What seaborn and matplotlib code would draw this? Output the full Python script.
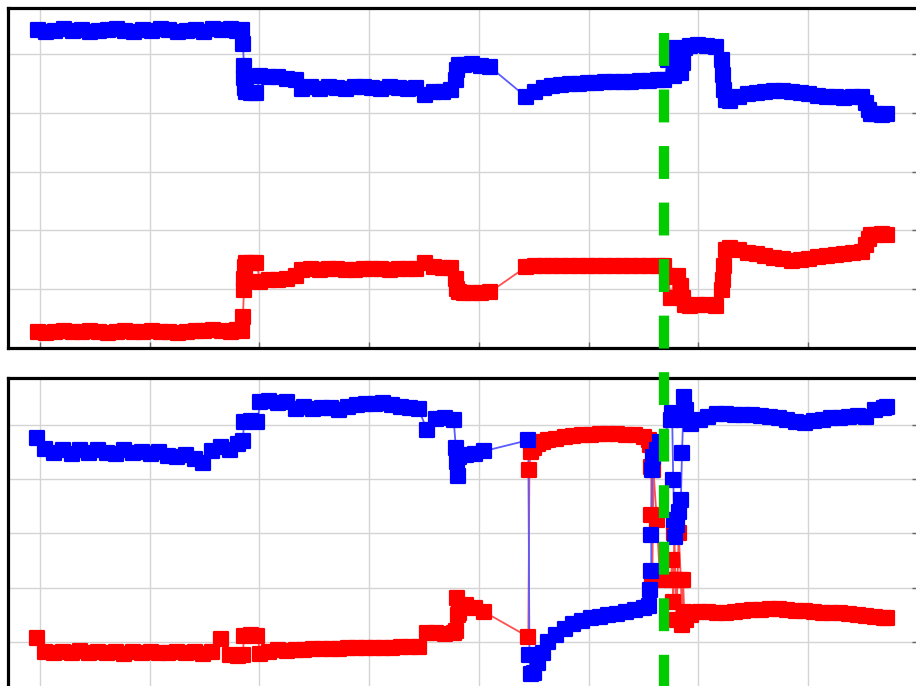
import seaborn as sns
import matplotlib.pyplot as plt

# time axis (hours) and the two signals of each panel
t_top = [-0.02, 0.06, 0.14, 0.22, 0.30, 0.38, 0.46, 0.54, 0.62, 0.70, 0.78, 0.86, 0.94,
         1.02, 1.10, 1.18, 1.26, 1.34, 1.42, 1.50, 1.58, 1.66, 1.74, 1.80, 1.84,
         1.85, 1.86, 1.86, 1.87, 1.88, 1.92, 1.97,
         2.01, 2.09, 2.17, 2.25, 2.33,
         2.39, 2.47, 2.55, 2.63, 2.71, 2.79, 2.87, 2.95, 3.03, 3.11, 3.19, 3.27, 3.35, 3.43,
         3.51, 3.59, 3.67, 3.75,
         3.79, 3.80, 3.82,
         3.86, 3.94, 4.02, 4.10,
         4.43, 4.51, 4.59, 4.67, 4.75, 4.83, 4.91, 4.99, 5.07, 5.15, 5.23, 5.31, 5.39, 5.47, 5.55, 5.63,
         5.69, 5.72, 5.75, 5.78, 5.81, 5.84, 5.86, 5.88,
         5.92, 6.00, 6.08, 6.16,
         6.21, 6.22, 6.23, 6.25,
         6.29, 6.37, 6.45, 6.53, 6.61, 6.69, 6.77, 6.85, 6.93, 7.01, 7.09, 7.17, 7.25, 7.33, 7.41, 7.49,
         7.53, 7.55, 7.57,
         7.61, 7.67, 7.72]

blue_top = [5.40, 5.37, 5.39, 5.42, 5.39, 5.41, 5.37, 5.39, 5.41, 5.42, 5.39, 5.37, 5.40,
            5.39, 5.42, 5.40, 5.37, 5.39, 5.41, 5.38, 5.42, 5.40, 5.43, 5.39, 5.41,
            5.17, 4.80, 4.59, 4.42, 4.36, 4.34, 4.34,
            4.62, 4.60, 4.61, 4.58, 4.55,
            4.41, 4.43, 4.41, 4.43, 4.42, 4.40, 4.43, 4.44, 4.42, 4.41, 4.44, 4.42, 4.40, 4.42,
            4.30, 4.36, 4.35, 4.38,
            4.56, 4.73, 4.81,
            4.81, 4.82, 4.80, 4.78,
            4.27, 4.36, 4.42, 4.45, 4.47, 4.48, 4.49, 4.50, 4.51, 4.52, 4.52, 4.53, 4.53, 4.54, 4.54, 4.55,
            4.56, 4.90, 5.10, 4.62, 4.70, 4.68, 4.85, 5.10,
            5.13, 5.15, 5.14, 5.12,
            4.90, 4.64, 4.39, 4.22,
            4.20, 4.27, 4.31, 4.34, 4.36, 4.37, 4.37, 4.36, 4.34, 4.32, 4.29, 4.27, 4.26, 4.25, 4.26, 4.27,
            4.17, 4.05, 3.97,
            3.97, 3.96, 3.97]

red_top = [0.28, 0.26, 0.28, 0.29, 0.27, 0.28, 0.29, 0.27, 0.26, 0.28, 0.29, 0.27, 0.28,
           0.29, 0.27, 0.28, 0.26, 0.28, 0.29, 0.29, 0.31, 0.29, 0.28, 0.31, 0.29,
           0.53, 0.98, 1.17, 1.37, 1.44, 1.44, 1.44,
           1.13, 1.15, 1.16, 1.18, 1.22,
           1.33, 1.35, 1.32, 1.34, 1.35, 1.33, 1.32, 1.34, 1.35, 1.34, 1.32, 1.34, 1.35, 1.35,
           1.44, 1.37, 1.36, 1.36,
           1.17, 1.00, 0.95,
           0.93, 0.93, 0.94, 0.95,
           1.38, 1.39, 1.40, 1.39, 1.40, 1.39, 1.39, 1.40, 1.40, 1.39, 1.40, 1.39, 1.40, 1.40, 1.39, 1.40,
           1.39, 1.22, 0.85, 1.20, 1.22, 1.05, 0.85, 0.73,
           0.72, 0.73, 0.73, 0.72,
           0.98, 1.15, 1.39, 1.66,
           1.70, 1.66, 1.62, 1.59, 1.56, 1.53, 1.51, 1.48, 1.49, 1.52, 1.55, 1.57, 1.58, 1.59, 1.61, 1.63,
           1.75, 1.85, 1.92,
           1.92, 1.93, 1.92]

t_bot = [-0.03, 0.05, 0.13, 0.21, 0.29, 0.37, 0.45, 0.53, 0.61, 0.69, 0.77, 0.85,
         0.93, 1.01, 1.09, 1.17, 1.25, 1.33, 1.41, 1.49, 1.57, 1.65, 1.73, 1.81,
         1.85, 1.86, 1.92, 1.98,
         2.01, 2.09, 2.17, 2.25, 2.33, 2.41, 2.49, 2.57, 2.65, 2.73, 2.81, 2.89,
         2.97, 3.05, 3.13, 3.21, 3.29, 3.37, 3.45, 3.53, 3.61, 3.69, 3.77,
         3.79, 3.80, 3.81, 3.82, 3.88, 3.96, 4.05,
         4.45, 4.46, 4.47, 4.50, 4.54, 4.58, 4.63, 4.70, 4.78, 4.86, 4.94, 5.02,
         5.10, 5.18, 5.26, 5.34, 5.42, 5.50, 5.55,
         5.56, 5.57, 5.57, 5.58, 5.59, 5.62, 5.65, 5.75, 5.76, 5.77, 5.78, 5.79,
         5.80, 5.82, 5.84, 5.85, 5.86, 5.87, 5.89,
         5.93, 6.01, 6.09, 6.17, 6.25, 6.33, 6.41, 6.49, 6.57, 6.65, 6.73, 6.81,
         6.89, 6.97, 7.05, 7.13, 7.21, 7.29, 7.37, 7.45, 7.53, 7.61, 7.69, 7.72]

blue_bot = [4.76, 4.55, 4.48, 4.54, 4.47, 4.53, 4.48, 4.54, 4.49, 4.46, 4.53, 4.48,
            4.51, 4.46, 4.50, 4.43, 4.40, 4.45, 4.38, 4.30, 4.52, 4.60, 4.53, 4.64,
            4.70, 5.06, 5.07, 5.06,
            5.42, 5.44, 5.40, 5.42, 5.30, 5.34, 5.30, 5.31, 5.32, 5.28, 5.34, 5.36,
            5.39, 5.38, 5.40, 5.36, 5.33, 5.31, 5.29, 4.90, 5.11, 5.13, 5.10,
            4.58, 4.32, 4.06, 4.41, 4.45, 4.47, 4.52,
            4.72, 0.76, 0.40, 0.42, 0.60, 0.80, 1.00, 1.12, 1.24, 1.32, 1.39, 1.43,
            1.46, 1.49, 1.52, 1.55, 1.58, 1.62, 1.66,
            1.96, 2.31, 2.97, 4.17, 4.41, 4.54, 4.69, 5.09, 5.22, 3.99, 3.25, 2.93,
            3.15, 3.40, 3.62, 4.48, 5.09, 5.52, 5.28,
            5.02, 5.10, 5.14, 5.20, 5.21, 5.19, 5.18, 5.18, 5.16, 5.14, 5.12, 5.09,
            5.06, 5.04, 5.07, 5.10, 5.12, 5.13, 5.14, 5.17, 5.15, 5.28, 5.32, 5.33]

red_bot = [1.07, 0.82, 0.79, 0.82, 0.80, 0.83, 0.79, 0.81, 0.80, 0.82, 0.78, 0.81,
           0.80, 0.82, 0.79, 0.79, 0.81, 0.80, 0.82, 0.77, 0.82, 1.05, 0.75, 0.73,
           0.76, 1.11, 1.12, 1.10,
           0.78, 0.82, 0.84, 0.83, 0.85, 0.85, 0.86, 0.86, 0.87, 0.87, 0.88, 0.88,
           0.88, 0.89, 0.89, 0.89, 0.90, 0.90, 0.90, 1.16, 1.16, 1.15, 1.17,
           1.20, 1.81, 1.49, 1.53, 1.68, 1.62, 1.55,
           1.09, 4.17, 4.50, 4.58, 4.64, 4.69, 4.72, 4.75, 4.78, 4.80, 4.81, 4.82,
           4.83, 4.83, 4.83, 4.82, 4.82, 4.77, 4.72,
           4.63, 4.23, 3.34, 2.18, 4.17, 3.25, 2.14, 2.14, 2.51, 1.73, 3.01, 2.14,
           1.40, 3.01, 2.14, 1.31, 2.14, 1.55, 1.40,
           1.50, 1.55, 1.55, 1.54, 1.53, 1.55, 1.57, 1.58, 1.59, 1.60, 1.61, 1.59,
           1.57, 1.56, 1.55, 1.54, 1.53, 1.53, 1.52, 1.50, 1.48, 1.46, 1.44, 1.44]

t_event = 5.69

sns.set_style("white")

fig = plt.figure(figsize=(9.16, 6.86), dpi=100)
ax_top = fig.add_axes([0.0087, 0.4927, 0.9935, 0.4956])
ax_bot = fig.add_axes([0.0087, -0.0204, 0.9935, 0.4694])


def draw_series(ax, t, y, color, line_color):
    sns.lineplot(x=t, y=y, sort=False, estimator=None, color=line_color,
                 lw=1.3, ax=ax, zorder=2)
    sns.scatterplot(x=t, y=y, marker="s", s=95, color=color, edgecolor=color,
                    linewidth=1.6, joinstyle="round", ax=ax, zorder=3)


draw_series(ax_top, t_top, red_top, "#ff0000", "#ff5050")
draw_series(ax_top, t_top, blue_top, "#0000ff", "#5a5aff")
draw_series(ax_bot, t_bot, red_bot, "#ff0000", "#ff5050")
draw_series(ax_bot, t_bot, blue_bot, "#0000ff", "#5a5aff")

ax_top.set_xlim(-0.29, 7.93)
ax_top.set_ylim(0.0, 5.78)
ax_bot.set_xlim(-0.29, 7.93)
ax_bot.set_ylim(-0.074, 5.867)

for ax in (ax_top, ax_bot):
    ax.set_xticks(range(0, 9))
    ax.set_yticks(range(0, 6))
    ax.grid(True, color="#d4d4d4", lw=1.0)
    ax.set_axisbelow(True)
    ax.tick_params(direction="in", bottom=True, right=True, left=False, top=False,
                   labelbottom=False, labelleft=False, length=4, width=1,
                   color="#666666")
    ax.set_xlabel("")
    ax.set_ylabel("")
    for sp in ax.spines.values():
        sp.set_linewidth(2.3)
        sp.set_color("black")

# event marker running through both panels
ax_bot.axvline(t_event, ymin=2.071, ymax=0.031, color="#00cc00", lw=7.4,
               dashes=(3.2, 2.3), clip_on=False, zorder=10)

fig.savefig("out.png", dpi=100)
